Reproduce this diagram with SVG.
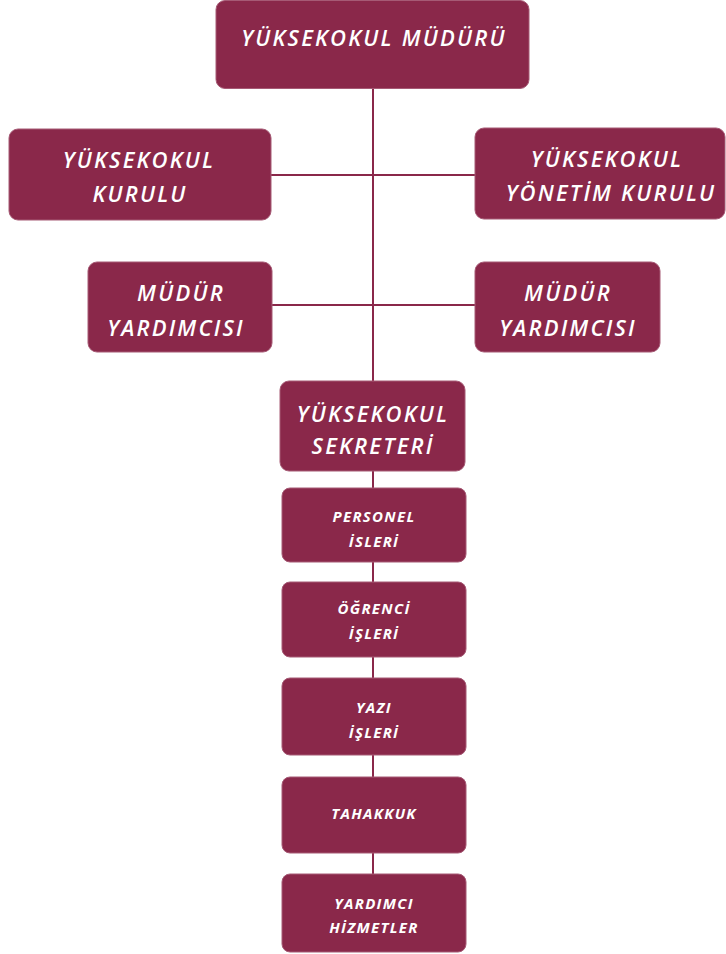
<svg xmlns="http://www.w3.org/2000/svg" width="726" height="954" viewBox="0 0 726 954">
<style>
.box{fill:#8a284a;stroke:#a65a75;stroke-width:1}
.big{font-family:"Open Sans","DejaVu Sans",sans-serif;font-style:italic;font-weight:600;font-size:22px;fill:#ffffff;text-anchor:middle;letter-spacing:2.2px}
.small{font-family:"Open Sans","DejaVu Sans",sans-serif;font-style:italic;font-weight:bold;font-size:15px;fill:#ffffff;text-anchor:middle;letter-spacing:1.3px}
.conn{stroke:#8a284a;stroke-width:2;fill:none}
</style>
<rect width="726" height="954" fill="#ffffff"/>
<g id="connectors">
<line class="conn" x1="373" y1="88" x2="373" y2="876"/>
<line class="conn" x1="271" y1="175" x2="476" y2="175"/>
<line class="conn" x1="272" y1="305" x2="476" y2="305"/>
</g>
<g id="mudur">
<rect class="box" x="216" y="0.5" width="313" height="88" rx="9"/>
<text class="big" x="374" y="46">YÜKSEKOKUL MÜDÜRÜ</text>
</g>
<g id="kurulu">
<rect class="box" x="9" y="129" width="262" height="91" rx="9"/>
<text class="big" x="139" y="168">YÜKSEKOKUL</text>
<text class="big" x="140" y="202">KURULU</text>
</g>
<g id="yonetim">
<rect class="box" x="475" y="128" width="250" height="91" rx="9"/>
<text class="big" x="607" y="167">YÜKSEKOKUL</text>
<text class="big" x="611" y="201">YÖNETİM KURULU</text>
</g>
<g id="yardimci1">
<rect class="box" x="88" y="262" width="184" height="90" rx="9"/>
<text class="big" x="181" y="301">MÜDÜR</text>
<text class="big" x="176" y="336">YARDIMCISI</text>
</g>
<g id="yardimci2">
<rect class="box" x="475" y="262" width="185" height="90" rx="9"/>
<text class="big" x="568" y="301">MÜDÜR</text>
<text class="big" x="568" y="336">YARDIMCISI</text>
</g>
<g id="sekreter">
<rect class="box" x="280" y="381" width="185" height="90" rx="9"/>
<text class="big" x="373" y="422">YÜKSEKOKUL</text>
<text class="big" x="373" y="454">SEKRETERİ</text>
</g>
<g id="personel">
<rect class="box" x="282" y="488" width="184" height="74" rx="8"/>
<text class="small" x="374" y="522">PERSONEL</text>
<text class="small" x="374" y="547">İSLERİ</text>
</g>
<g id="ogrenci">
<rect class="box" x="282" y="582" width="184" height="75" rx="8"/>
<text class="small" x="374" y="614">ÖĞRENCİ</text>
<text class="small" x="374" y="639">İŞLERİ</text>
</g>
<g id="yazi">
<rect class="box" x="282" y="678" width="184" height="77" rx="8"/>
<text class="small" x="374" y="713">YAZI</text>
<text class="small" x="374" y="738">İŞLERİ</text>
</g>
<g id="tahakkuk">
<rect class="box" x="282" y="777" width="184" height="76" rx="8"/>
<text class="small" x="374" y="819">TAHAKKUK</text>
</g>
<g id="hizmetler">
<rect class="box" x="282" y="874" width="184" height="78" rx="8"/>
<text class="small" x="374" y="909">YARDIMCI</text>
<text class="small" x="374" y="933">HİZMETLER</text>
</g>
</svg>
